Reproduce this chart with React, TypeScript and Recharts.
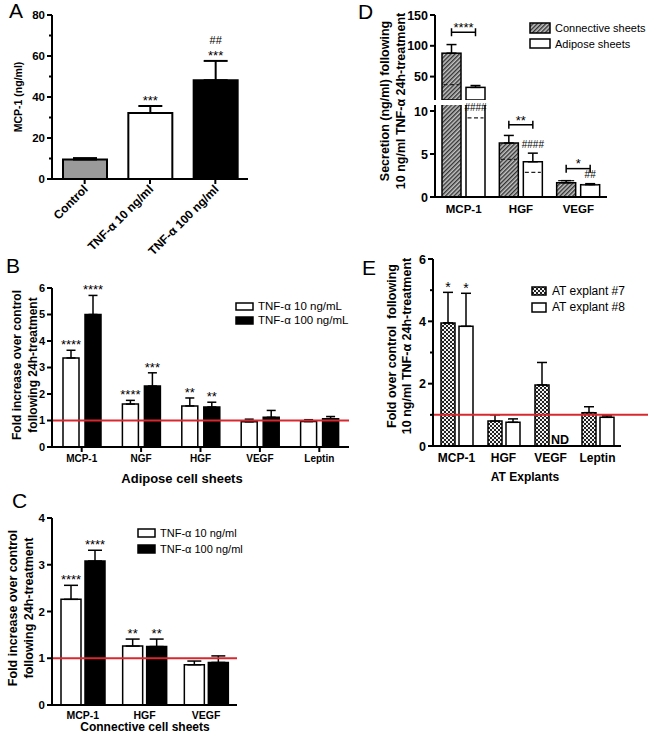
import React from 'react';
import { BarChart, Bar, XAxis, YAxis, ErrorBar, ReferenceLine, LabelList, Cell } from 'recharts';

const FONT = '"Liberation Sans", Arial, Helvetica, sans-serif';
const RED = '#d7282f';

// ---------- Panel A ----------
const aCategories = ['Control', 'TNF-α 10 ng/ml', 'TNF-α 100 ng/ml'];
const aValues = [9.5, 32.2, 48.2];
const aErrors = [0.7, 3.4, 9.4];
const aFills = ['#9a9a9a', '#ffffff', '#000000'];
const aStars = ['', '***', '***'];
const aHashes = ['', '', '##'];
const aMajorTicks = [0, 20, 40, 60, 80];
const aMinorTicks = [10, 30, 50, 70];

// ---------- Panel B ----------
const bCategories = ['MCP-1', 'NGF', 'HGF', 'VEGF', 'Leptin'];
const b10Values = [3.36, 1.62, 1.55, 0.95, 0.96];
const b10Errors = [0.29, 0.14, 0.3, 0.1, 0.07];
const b100Values = [5.0, 2.3, 1.51, 1.12, 1.07];
const b100Errors = [0.72, 0.5, 0.18, 0.26, 0.08];
const b10Stars = ['****', '****', '**', '', ''];
const b100Stars = ['****', '***', '**', '', ''];
const bMajorTicks = [0, 1, 2, 3, 4, 5, 6];

// ---------- Panel C ----------
const cCategories = ['MCP-1', 'HGF', 'VEGF'];
const c10Values = [2.26, 1.26, 0.86];
const c10Errors = [0.3, 0.15, 0.08];
const c100Values = [3.08, 1.25, 0.91];
const c100Errors = [0.23, 0.16, 0.14];
const c10Stars = ['****', '**', ''];
const c100Stars = ['****', '**', ''];
const cMajorTicks = [0, 1, 2, 3, 4];

// ---------- Panel D ----------
const dCategories = ['MCP-1', 'HGF', 'VEGF'];
const dConnValues = [88, 6.28, 1.66];
const dConnErrors = [14, 0.88, 0.24];
const dConnControl = [37, 4.37, 1.9];
const dAdipValues = [32.5, 4.1, 1.43];
const dAdipErrors = [3, 1.0, 0.12];
const dAdipControl = [9.2, 2.86, 1.45];
const dAdipHashes = ['####', '####', '##'];
const dPairStars = ['****', '**', '*'];
const dBracketLevels = [122, 8.4, 3.3];
const dUpperTicks = [50, 100, 150];
const dLowerTicks = [0, 5, 10];
const dUpperDomain = [12, 150];
const dLowerDomain = [0, 10.7];

// ---------- Panel E ----------
const eCategories = ['MCP-1', 'HGF', 'VEGF', 'Leptin'];
const e7Values = [3.95, 0.8, 1.96, 1.07];
const e7Errors = [0.98, 0.2, 0.72, 0.19];
const e8Values = [3.84, 0.76, 0, 0.92];
const e8Errors = [1.06, 0.11, 0, 0.05];
const e7Stars = ['*', '', '', ''];
const e8Stars = ['*', '', '', ''];
const e8NotDetected = [false, false, true, false];
const eMajorTicks = [0, 2, 4, 6];
const eMinorTicks = [1, 3, 5];

// ---------- helpers ----------
const geom = (props: any) => {
  const vb = props.viewBox && typeof props.viewBox.width === 'number' ? props.viewBox : props;
  return { x: Number(vb.x), y: Number(vb.y), width: Number(vb.width), height: Number(vb.height) };
};
const pix = (g: any, v: number, base: number, t: number) => g.y + (g.height * (v - t)) / (v - base);

const Annot = ({ cx, center, text, size }: any) => {
  const isStar = text.startsWith('*');
  const baseline = center + (isStar ? 0.6 : 0.36) * size;
  return (
    <text x={cx} y={baseline} textAnchor="middle" fontSize={size} fontFamily={FONT} fill="#000">
      {text}
    </text>
  );
};

const makeAnnotations =
  (cats: string[], values: number[], errors: number[], lines: string[][], base: number, size: number, clampTop?: number) =>
  (props: any) => {
    const i = cats.indexOf(props.value);
    if (i < 0) return null;
    const L = lines[i];
    if (!L || !L.length) return null;
    const g = geom(props);
    const v = values[i];
    if (!(v > base)) return null;
    const top = pix(g, v, base, v + errors[i]);
    let c0 = top - 9;
    if (clampTop != null) c0 = Math.max(c0, clampTop + 2);
    return (
      <g>
        {L.map((t, j) => (
          <Annot key={j} cx={g.x + g.width / 2} center={c0 - j * 12} text={t} size={t.startsWith('#') ? size - 2 : size} />
        ))}
      </g>
    );
  };

const makeBracket =
  (cats: string[], values: number[], levels: number[], stars: string[], base: number, max: number, gap: number) =>
  (props: any) => {
    const i = cats.indexOf(props.value);
    if (i < 0) return null;
    const lvl = levels[i];
    if (!(lvl >= base && lvl <= max)) return null;
    const v = values[i];
    if (!(v > base)) return null;
    const g = geom(props);
    const by = pix(g, v, base, lvl);
    const x1 = g.x + g.width / 2;
    const x2 = g.x + g.width * 1.5 + gap;
    return (
      <g>
        <line x1={x1} x2={x2} y1={by} y2={by} stroke="#000" strokeWidth={1.5} />
        <line x1={x1} x2={x1} y1={by - 4} y2={by + 4} stroke="#000" strokeWidth={1.5} />
        <line x1={x2} x2={x2} y1={by - 4} y2={by + 4} stroke="#000" strokeWidth={1.5} />
        <Annot cx={(x1 + x2) / 2} center={by - 8} text={stars[i]} size={13} />
      </g>
    );
  };

const makeDShape = (values: number[], controls: number[], base: number) => (p: any) => {
  const i = dCategories.indexOf(p.payload ? p.payload.name : '');
  const v = values[i];
  const { x, y, width, height } = p;
  if (i < 0 || !(v > base) || !(height > 0)) return <g />;
  const c = controls[i];
  const cy = y + (height * (v - c)) / (v - base);
  return (
    <g>
      <rect x={x} y={y} width={width} height={height} fill={p.fill} stroke="#000" strokeWidth={1.5} />
      <line x1={x + 1.5} x2={x + width - 1.5} y1={cy} y2={cy} stroke="#222" strokeWidth={1.3} strokeDasharray="4 2.5" />
    </g>
  );
};

const makeYTick = (major: number[], size: number, majorLen = 5, minorLen = 3) => (props: any) => {
  const { x, y, payload } = props;
  const v = payload.value;
  const isMajor = major.indexOf(v) >= 0;
  const len = isMajor ? majorLen : minorLen;
  return (
    <g>
      <line x1={x - len} x2={x} y1={y} y2={y} stroke="#000" strokeWidth={2} />
      {isMajor && (
        <text x={x - majorLen - 2} y={y} dy="0.36em" textAnchor="end" fontSize={size} fontWeight="bold" fontFamily={FONT} fill="#000">
          {v}
        </text>
      )}
    </g>
  );
};

const makeXTick = (size: number, tickLen: number, baselineOffset: number, rotate = false) => (props: any) => {
  const { x, y, payload } = props;
  return (
    <g>
      {tickLen > 0 && <line x1={x} x2={x} y1={y} y2={y + tickLen} stroke="#000" strokeWidth={2} />}
      {rotate ? (
        <text x={x + 4} y={y + 11} textAnchor="end" transform={`rotate(-45, ${x + 4}, ${y + 11})`} fontSize={size} fontWeight="bold" fontFamily={FONT} fill="#000">
          {payload.value}
        </text>
      ) : (
        <text x={x} y={y + baselineOffset} textAnchor="middle" fontSize={size} fontWeight="bold" fontFamily={FONT} fill="#000">
          {payload.value}
        </text>
      )}
    </g>
  );
};

const AX = { stroke: '#000', strokeWidth: 2 };
const toLines = (arr: string[]) => arr.map((s) => (s ? [s] : []));

// ---------- Panels ----------
const PanelA = () => {
  const data = aCategories.map((name, i) => ({ name, value: aValues[i], err: [0, aErrors[i]] }));
  const lines = aStars.map((s, i) => [s, aHashes[i]].filter(Boolean));
  return (
    <BarChart width={250} height={268} data={data} margin={{ top: 15, right: 2, bottom: 0, left: 0 }} barSize={44}>
      <XAxis dataKey="name" height={89} interval={0} tickSize={0} tickMargin={0} tickLine={false} axisLine={AX} tick={makeXTick(12, 5, 0, true)} />
      <YAxis width={52} domain={[0, 80]} ticks={[...aMajorTicks, ...aMinorTicks].sort((a, b) => a - b)} interval={0} tickSize={0} tickMargin={0} tickLine={false} axisLine={AX} tick={makeYTick(aMajorTicks, 11.5)} />
      <Bar dataKey="value" stroke="#000" strokeWidth={2} isAnimationActive={false}>
        {data.map((d, i) => (
          <Cell key={i} fill={aFills[i]} />
        ))}
        <ErrorBar dataKey="err" width={12} stroke="#000" strokeWidth={2} direction="y" />
        <LabelList dataKey="name" content={makeAnnotations(aCategories, aValues, aErrors, lines, 0, 13)} />
      </Bar>
    </BarChart>
  );
};

const PanelB = () => {
  const data = bCategories.map((name, i) => ({
    name,
    v10: b10Values[i],
    v100: b100Values[i],
    e10: [0, b10Errors[i]],
    e100: [0, b100Errors[i]],
  }));
  return (
    <BarChart width={360} height={240} data={data} margin={{ top: 38, right: 11, bottom: 0, left: 0 }} barSize={16} barGap={6}>
      <XAxis dataKey="name" height={43} interval={0} tickSize={0} tickMargin={0} tickLine={false} axisLine={AX} tick={makeXTick(10, 5, 15)} />
      <YAxis width={52} domain={[0, 6]} ticks={bMajorTicks} interval={0} tickSize={0} tickMargin={0} tickLine={false} axisLine={AX} tick={makeYTick(bMajorTicks, 11)} />
      <Bar dataKey="v10" fill="#fff" stroke="#000" strokeWidth={1.5} isAnimationActive={false}>
        <ErrorBar dataKey="e10" width={4.5} stroke="#000" strokeWidth={1.5} direction="y" />
        <LabelList dataKey="name" content={makeAnnotations(bCategories, b10Values, b10Errors, toLines(b10Stars), 0, 13)} />
      </Bar>
      <Bar dataKey="v100" fill="#000" stroke="#000" strokeWidth={1.5} isAnimationActive={false}>
        <ErrorBar dataKey="e100" width={4.5} stroke="#000" strokeWidth={1.5} direction="y" />
        <LabelList dataKey="name" content={makeAnnotations(bCategories, b100Values, b100Errors, toLines(b100Stars), 0, 13)} />
      </Bar>
      <ReferenceLine y={1} stroke={RED} strokeWidth={2} />
    </BarChart>
  );
};

const PanelC = () => {
  const data = cCategories.map((name, i) => ({
    name,
    v10: c10Values[i],
    v100: c100Values[i],
    e10: [0, c10Errors[i]],
    e100: [0, c100Errors[i]],
  }));
  return (
    <BarChart width={250} height={256} data={data} margin={{ top: 33, right: 13, bottom: 0, left: 0 }} barSize={20} barGap={4}>
      <XAxis dataKey="name" height={36} interval={0} tickSize={0} tickMargin={0} tickLine={false} axisLine={AX} tick={makeXTick(10.5, 0, 14)} />
      <YAxis width={52} domain={[0, 4]} ticks={cMajorTicks} interval={0} tickSize={0} tickMargin={0} tickLine={false} axisLine={AX} tick={makeYTick(cMajorTicks, 11.5)} />
      <Bar dataKey="v10" fill="#fff" stroke="#000" strokeWidth={1.5} isAnimationActive={false}>
        <ErrorBar dataKey="e10" width={7} stroke="#000" strokeWidth={1.5} direction="y" />
        <LabelList dataKey="name" content={makeAnnotations(cCategories, c10Values, c10Errors, toLines(c10Stars), 0, 13)} />
      </Bar>
      <Bar dataKey="v100" fill="#000" stroke="#000" strokeWidth={1.5} isAnimationActive={false}>
        <ErrorBar dataKey="e100" width={7} stroke="#000" strokeWidth={1.5} direction="y" />
        <LabelList dataKey="name" content={makeAnnotations(cCategories, c100Values, c100Errors, toLines(c100Stars), 0, 13)} />
      </Bar>
      <ReferenceLine y={1} stroke={RED} strokeWidth={2} />
    </BarChart>
  );
};

const dData = dCategories.map((name, i) => ({
  name,
  conn: dConnValues[i],
  adip: dAdipValues[i],
  eConn: [0, dConnErrors[i]],
  eAdip: [0, dAdipErrors[i]],
}));
const D_GAP = 5;

const PanelDUpper = () => (
  <BarChart width={318} height={100} data={dData} margin={{ top: 15, right: 41, bottom: 0, left: 0 }} barSize={19} barGap={D_GAP}>
    <XAxis dataKey="name" hide height={0} />
    <YAxis width={105} domain={dUpperDomain} allowDataOverflow ticks={dUpperTicks} interval={0} tickSize={0} tickMargin={0} tickLine={false} axisLine={AX} tick={makeYTick(dUpperTicks, 12.5)} />
    <Bar dataKey="conn" fill="url(#hatch)" stroke="#000" strokeWidth={1.5} isAnimationActive={false} shape={makeDShape(dConnValues, dConnControl, dUpperDomain[0])}>
      <ErrorBar dataKey="eConn" width={5} stroke="#000" strokeWidth={1.5} direction="y" />
      <LabelList dataKey="name" content={makeBracket(dCategories, dConnValues, dBracketLevels, dPairStars, dUpperDomain[0], dUpperDomain[1], D_GAP)} />
    </Bar>
    <Bar dataKey="adip" fill="#fff" stroke="#000" strokeWidth={1.5} isAnimationActive={false} shape={makeDShape(dAdipValues, dAdipControl, dUpperDomain[0])}>
      <ErrorBar dataKey="eAdip" width={5} stroke="#000" strokeWidth={1.5} direction="y" />
    </Bar>
  </BarChart>
);

const PanelDLower = () => (
  <BarChart width={318} height={150} data={dData} margin={{ top: 15, right: 41, bottom: 0, left: 0 }} barSize={19} barGap={D_GAP}>
    <XAxis dataKey="name" height={43} interval={0} tickSize={0} tickMargin={0} tickLine={false} axisLine={AX} tick={makeXTick(11.5, 0, 16)} />
    <YAxis width={105} domain={dLowerDomain} allowDataOverflow ticks={dLowerTicks} interval={0} tickSize={0} tickMargin={0} tickLine={false} axisLine={AX} tick={makeYTick(dLowerTicks, 12.5)} />
    <Bar dataKey="conn" fill="url(#hatch)" stroke="#000" strokeWidth={1.5} isAnimationActive={false} shape={makeDShape(dConnValues, dConnControl, dLowerDomain[0])}>
      <ErrorBar dataKey="eConn" width={5} stroke="#000" strokeWidth={1.5} direction="y" />
      <LabelList dataKey="name" content={makeBracket(dCategories, dConnValues, dBracketLevels, dPairStars, dLowerDomain[0], dLowerDomain[1], D_GAP)} />
    </Bar>
    <Bar dataKey="adip" fill="#fff" stroke="#000" strokeWidth={1.5} isAnimationActive={false} shape={makeDShape(dAdipValues, dAdipControl, dLowerDomain[0])}>
      <ErrorBar dataKey="eAdip" width={5} stroke="#000" strokeWidth={1.5} direction="y" />
      <LabelList dataKey="name" content={makeAnnotations(dCategories, dAdipValues, dAdipErrors, dAdipHashes.map((s) => [s]), 0, 12, 15)} />
    </Bar>
  </BarChart>
);

const E_GAP = 4;
const PanelE = () => {
  const data = eCategories.map((name, i) => ({
    name,
    v7: e7Values[i],
    v8: e8Values[i],
    e7: [0, e7Errors[i]],
    e8: [0, e8Errors[i]],
  }));
  // "ND" is written in the slot of the (not detected) explant #8 bar, next to the #7 bar
  const ndLabel = (props: any) => {
    const i = eCategories.indexOf(props.value);
    if (i < 0 || !e8NotDetected[i]) return null;
    const g = geom(props);
    return (
      <text x={g.x + g.width * 1.5 + E_GAP} y={g.y + g.height - 2} textAnchor="middle" fontSize={12.5} fontWeight="bold" fontFamily={FONT} fill="#000">
        ND
      </text>
    );
  };
  const rightMargin = 27;
  return (
    <BarChart width={318} height={250} data={data} margin={{ top: 14, right: rightMargin, bottom: 0, left: 0 }} barSize={14} barGap={E_GAP}>
      <XAxis dataKey="name" height={49} interval={0} tickSize={0} tickMargin={0} tickLine={false} axisLine={AX} tick={makeXTick(12, 0, 16)} />
      <YAxis width={103} domain={[0, 6]} ticks={[...eMajorTicks, ...eMinorTicks].sort((a, b) => a - b)} interval={0} tickSize={0} tickMargin={0} tickLine={false} axisLine={AX} tick={makeYTick(eMajorTicks, 12.5)} />
      <Bar dataKey="v7" fill="url(#checker)" stroke="#000" strokeWidth={1.5} isAnimationActive={false}>
        <ErrorBar dataKey="e7" width={5} stroke="#000" strokeWidth={1.5} direction="y" />
        <LabelList dataKey="name" content={makeAnnotations(eCategories, e7Values, e7Errors, toLines(e7Stars), 0, 14)} />
        <LabelList dataKey="name" content={ndLabel} />
      </Bar>
      <Bar dataKey="v8" fill="#fff" stroke="#000" strokeWidth={1.5} isAnimationActive={false}>
        <ErrorBar dataKey="e8" width={5} stroke="#000" strokeWidth={1.5} direction="y" />
        <LabelList dataKey="name" content={makeAnnotations(eCategories, e8Values, e8Errors, toLines(e8Stars), 0, 14)} />
      </Bar>
      <ReferenceLine
        y={1}
        stroke={RED}
        strokeWidth={2}
        shape={(p: any) => <line x1={p.x1} y1={p.y1} x2={p.x2 + rightMargin} y2={p.y2} stroke={RED} strokeWidth={2} />}
      />
    </BarChart>
  );
};

// ---------- overlay text ----------
const VTitle = ({ lines, xs, cy, size }: any) => (
  <g>
    {lines.map((t: string, i: number) => (
      <text key={i} transform={`translate(${xs[i]},${cy}) rotate(-90)`} textAnchor="middle" fontSize={size} fontWeight="bold" fontFamily={FONT} fill="#000" style={{ whiteSpace: 'pre' }}>
        {t}
      </text>
    ))}
  </g>
);

const Letter = ({ x, y, t }: any) => (
  <text x={x} y={y} fontSize={21} fontFamily={FONT} fill="#000">
    {t}
  </text>
);

const LegendItem = ({ x, y, w, h, fill, label, tx, ty, size }: any) => (
  <g>
    <rect x={x} y={y} width={w} height={h} fill={fill} stroke="#000" strokeWidth={1.5} />
    <text x={tx} y={ty} fontSize={size} fontFamily={FONT} fill="#000">
      {label}
    </text>
  </g>
);

export default function App() {
  return (
    <div style={{ position: 'absolute', left: 0, top: 0, width: 648, height: 741, background: '#fff', overflow: 'hidden' }}>
      <svg width={0} height={0} style={{ position: 'absolute' }}>
        <defs>
          <pattern id="hatch" patternUnits="userSpaceOnUse" width="3" height="3" patternTransform="rotate(45)">
            <rect width="3" height="3" fill="#c4c4c4" />
            <rect width="1.4" height="3" fill="#333" />
          </pattern>
          <pattern id="checker" patternUnits="userSpaceOnUse" width="4" height="4">
            <rect width="4" height="4" fill="#f2f2f2" />
            <rect width="2" height="2" fill="#222" />
            <rect x="2" y="2" width="2" height="2" fill="#222" />
          </pattern>
        </defs>
      </svg>
      <div style={{ position: 'absolute', left: 0, top: 0 }}>
        <PanelA />
      </div>
      <div style={{ position: 'absolute', left: 0, top: 250 }}>
        <PanelB />
      </div>
      <div style={{ position: 'absolute', left: 0, top: 485 }}>
        <PanelC />
      </div>
      <div style={{ position: 'absolute', left: 330, top: 0 }}>
        <PanelDUpper />
      </div>
      <div style={{ position: 'absolute', left: 330, top: 90 }}>
        <PanelDLower />
      </div>
      <div style={{ position: 'absolute', left: 330, top: 245 }}>
        <PanelE />
      </div>
      <svg width={648} height={741} style={{ position: 'absolute', left: 0, top: 0, pointerEvents: 'none' }}>
        <Letter x={9} y={18} t="A" />
        <Letter x={358} y={19} t="D" />
        <Letter x={6} y={273} t="B" />
        <Letter x={12} y={508} t="C" />
        <Letter x={362} y={275} t="E" />

        <VTitle lines={['MCP-1 (ng/ml)']} xs={[22]} cy={97} size={10.5} />
        <VTitle lines={['Fold increase over control', 'following 24h-treatment']} xs={[21, 37]} cy={365} size={12} />
        <VTitle lines={['Fold increase over control', 'following 24h-treatment']} xs={[17, 33]} cy={608} size={12.5} />
        <VTitle lines={['Secretion (ng/ml) following', '10 ng/ml TNF-α 24h-treatment']} xs={[389, 405]} cy={101} size={12.5} />
        <VTitle lines={['Fold over control  following', '10 ng/ml TNF-α 24h-treatment']} xs={[396, 411]} cy={346} size={12.5} />

        <text x={182} y={483} textAnchor="middle" fontSize={13} fontWeight="bold" fontFamily={FONT}>Adipose cell sheets</text>
        <text x={145} y={731} textAnchor="middle" fontSize={12} fontWeight="bold" fontFamily={FONT}>Connective cell sheets</text>
        <text x={525} y={481} textAnchor="middle" fontSize={12} fontWeight="bold" fontFamily={FONT}>AT Explants</text>

        <LegendItem x={236} y={303} w={17} h={7} fill="#fff" label="TNF-α 10 ng/mL" tx={258} ty={310} size={11.5} />
        <LegendItem x={236} y={317} w={17} h={7} fill="#000" label="TNF-α 100 ng/mL" tx={258} ty={324} size={11.5} />

        <LegendItem x={138} y={529} w={17} h={8} fill="#fff" label="TNF-α 10 ng/ml" tx={160} ty={537} size={11} />
        <LegendItem x={138} y={545} w={17} h={8} fill="#000" label="TNF-α 100 ng/ml" tx={160} ty={553} size={11} />

        <LegendItem x={530} y={23} w={20} h={10} fill="url(#hatch)" label="Connective sheets" tx={555} ty={32} size={11} />
        <LegendItem x={530} y={39} w={20} h={9} fill="#fff" label="Adipose sheets" tx={555} ty={48} size={11} />

        <LegendItem x={532} y={287} w={14} h={8} fill="url(#checker)" label="AT explant #7" tx={552} ty={295} size={12} />
        <LegendItem x={532} y={303} w={14} h={9} fill="#fff" label="AT explant #8" tx={552} ty={311} size={12} />
      </svg>
    </div>
  );
}
